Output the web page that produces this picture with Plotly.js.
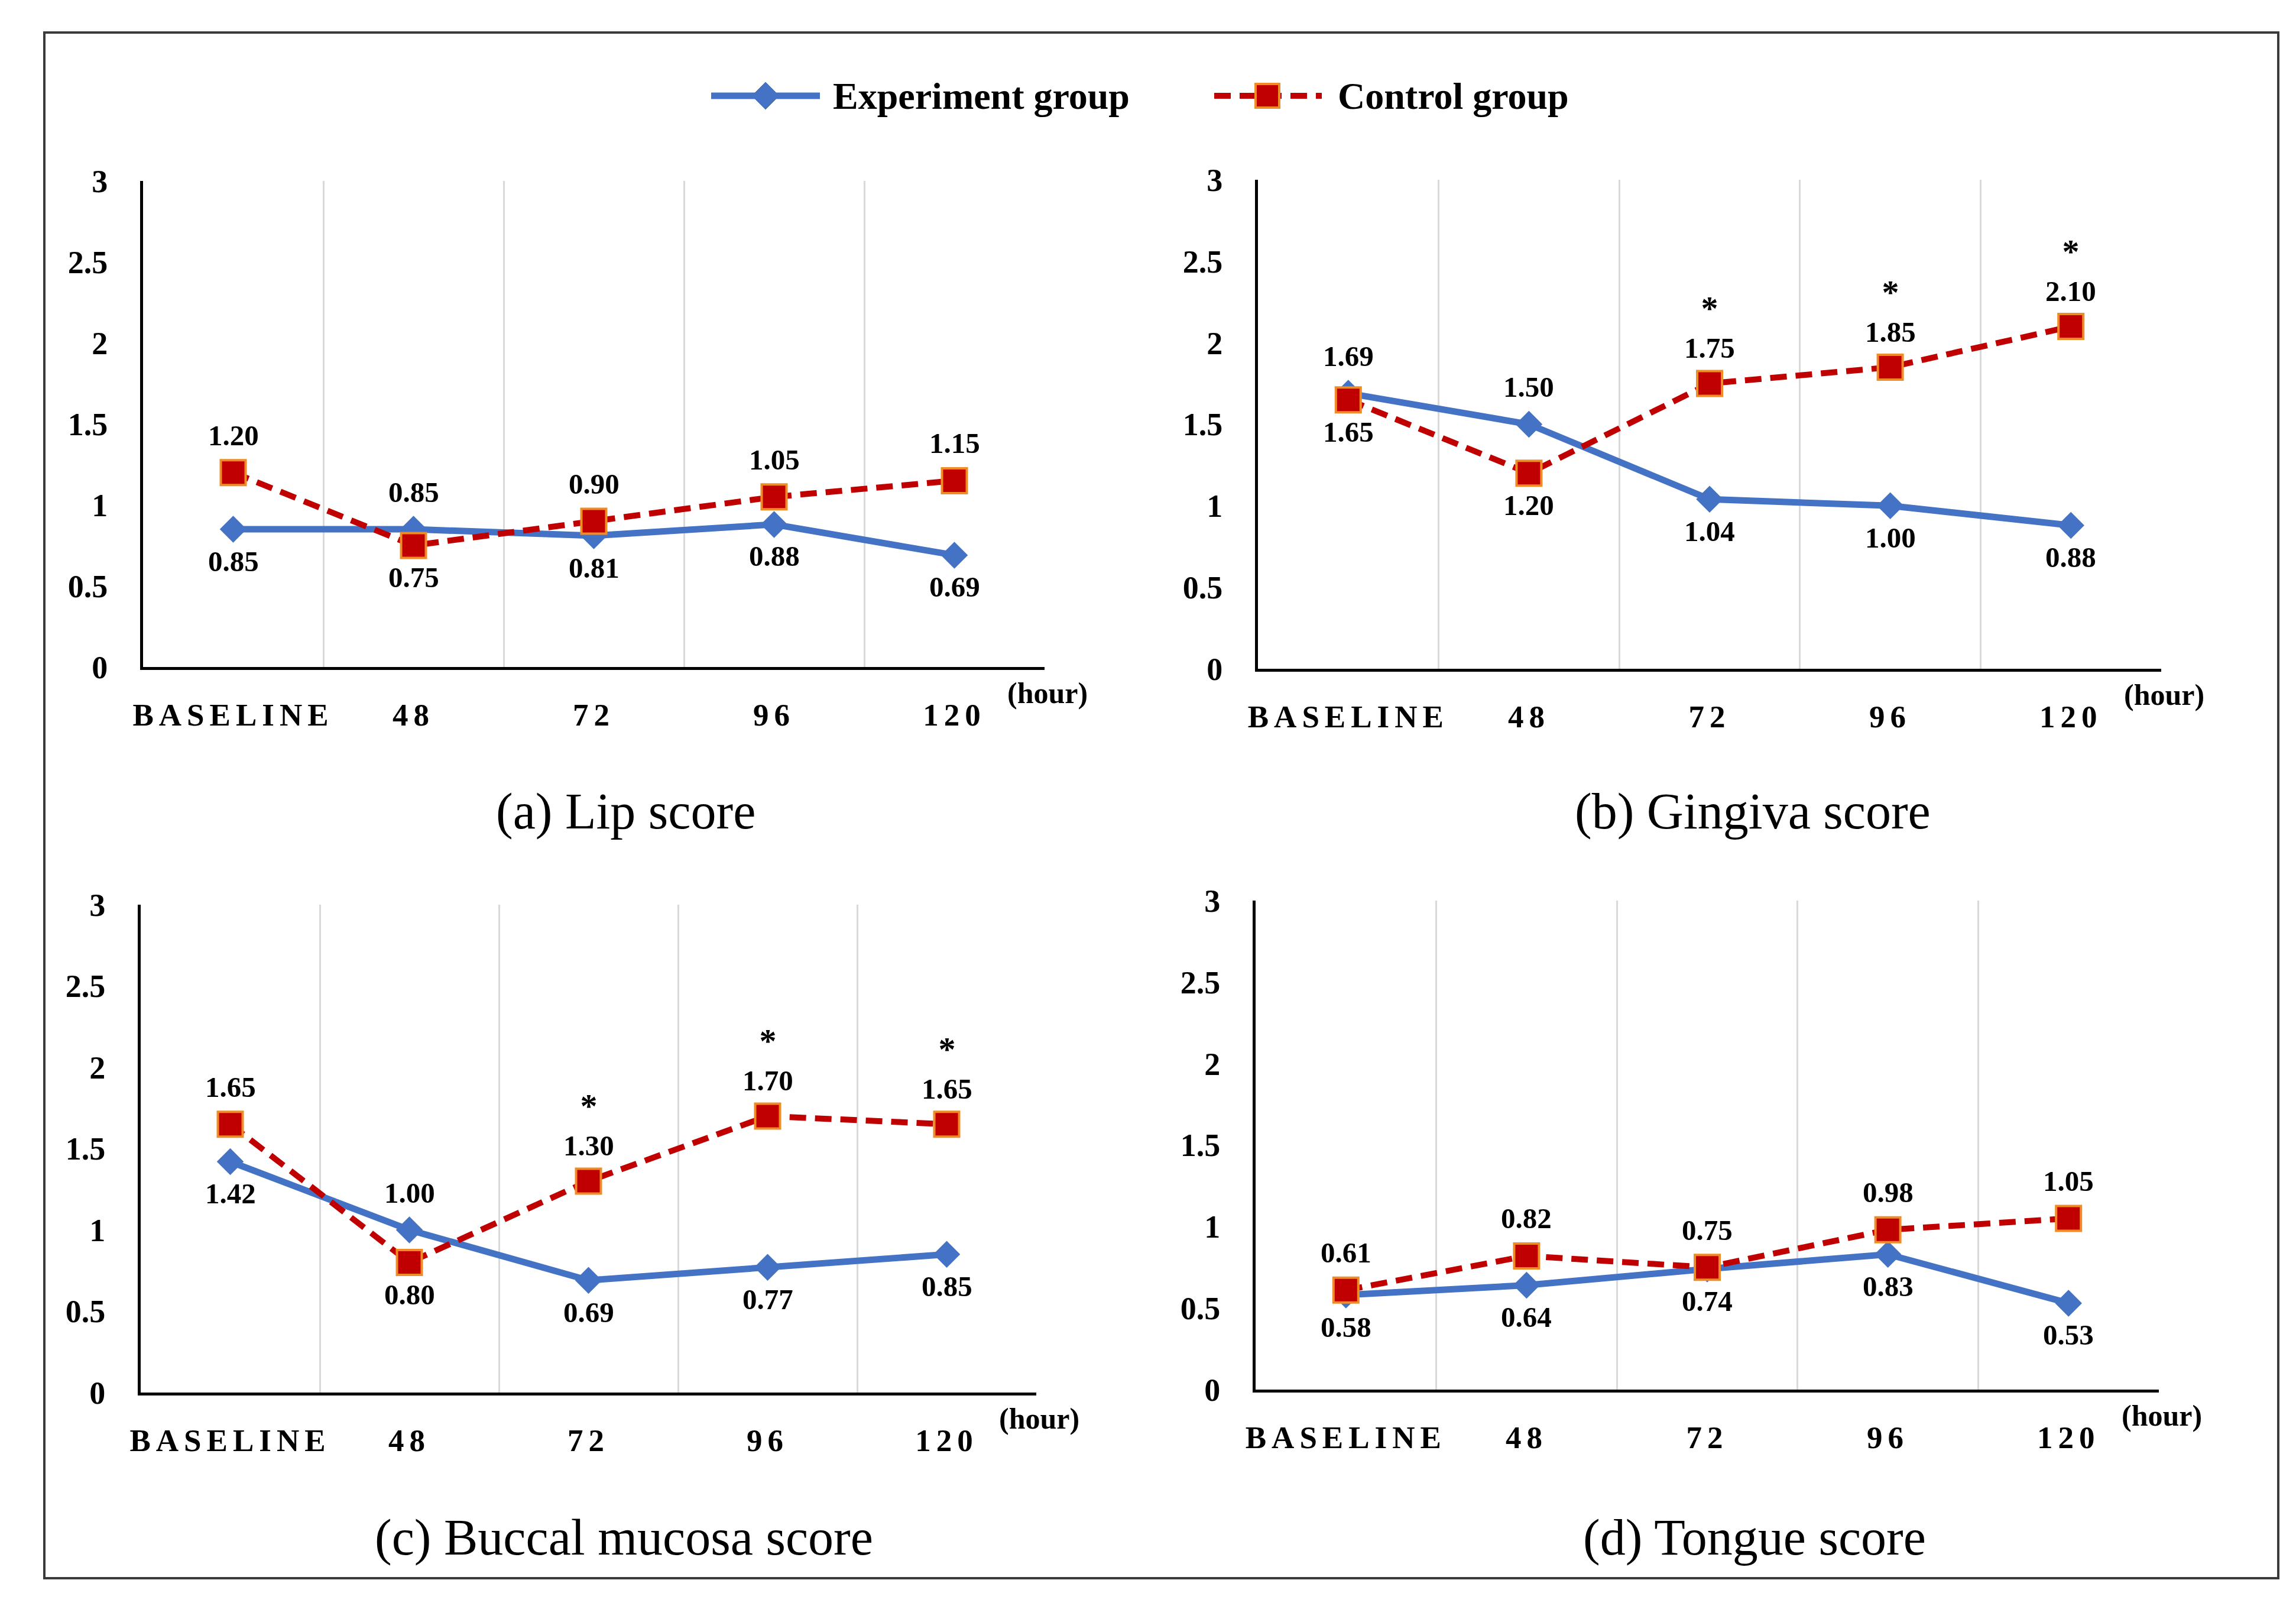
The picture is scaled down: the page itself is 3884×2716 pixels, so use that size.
<!DOCTYPE html>
<html><head><meta charset="utf-8">
<script src="https://cdn.plot.ly/plotly-3.0.1.min.js"></script>
<style>
html,body{margin:0;padding:0;background:#fff;}
#chart{width:3884px;height:2716px;}
.xtick text, .x2tick text, .x3tick text, .x4tick text{letter-spacing:9px;}
</style></head><body><div id="chart"></div>
<script>
// ---------- data ----------
const categories = ['BASELINE', '48', '72', '96', '120'];
const yTickVals = [0, 0.5, 1, 1.5, 2, 2.5, 3];
const yTickText = ['0', '0.5', '1', '1.5', '2', '2.5', '3'];

const lipExp  = [0.85, 0.85, 0.81, 0.88, 0.69];
const lipCtrl = [1.20, 0.75, 0.90, 1.05, 1.15];
const lipSig  = [false, false, false, false, false];

const gingivaExp  = [1.69, 1.50, 1.04, 1.00, 0.88];
const gingivaCtrl = [1.65, 1.20, 1.75, 1.85, 2.10];
const gingivaSig  = [false, false, true, true, true];

const buccalExp  = [1.42, 1.00, 0.69, 0.77, 0.85];
const buccalCtrl = [1.65, 0.80, 1.30, 1.70, 1.65];
const buccalSig  = [false, false, true, true, true];

const tongueExp  = [0.58, 0.64, 0.74, 0.83, 0.53];
const tongueCtrl = [0.61, 0.82, 0.75, 0.98, 1.05];
const tongueSig  = [false, false, false, false, false];

const panelTitles = ['(a) Lip score', '(b) Gingiva score', '(c) Buccal mucosa score', '(d) Tongue score'];
const seriesNames = ['Experiment group', 'Control group'];
const unitLabel = '(hour)';
const sigMark = '*';

// ---------- layout config ----------
const W = 3884, H = 2716;
const FONT = 'Liberation Serif';
const BLUE = '#4472C4', RED = '#C00000', ORANGE = '#F08C28', GRID = '#D9D9D9';

// label placement (t = above, b = below)
const panels = [
  {exp: lipExp, ctrl: lipCtrl, sig: lipSig, box: [242, 1767, 306, 1128],
   expPos: ['b','t','b','b','b'], ctrlPos: ['t','b','t','t','t'], title: [1058, 1372]},
  {exp: gingivaExp, ctrl: gingivaCtrl, sig: gingivaSig, box: [2128, 3656, 304, 1131],
   expPos: ['t','t','b','b','b'], ctrlPos: ['b','b','t','t','t'], title: [2965, 1372]},
  {exp: buccalExp, ctrl: buccalCtrl, sig: buccalSig, box: [238, 1753, 1530, 2355],
   expPos: ['b','t','b','b','b'], ctrlPos: ['t','b','t','t','t'], title: [1055, 2600]},
  {exp: tongueExp, ctrl: tongueCtrl, sig: tongueSig, box: [2124, 3652, 1523, 2350],
   expPos: ['b','b','b','b','b'], ctrlPos: ['t','t','t','t','t'], title: [2968, 2600]}
];

const px = v => v / W;
const py = v => 1 - v / H;

const traces = [];
const annotations = [];
const shapes = [];
const layout = {
  width: W, height: H,
  margin: {l: 0, r: 0, t: 0, b: 0},
  paper_bgcolor: '#fff', plot_bgcolor: '#fff',
  showlegend: false,
  font: {family: FONT, color: '#000'}
};

const ABOVE = 63, BELOW = -54, ABOVE_SIG = 96;

panels.forEach((p, k) => {
  const n = k + 1;
  const xa = 'x' + (n === 1 ? '' : n), ya = 'y' + (n === 1 ? '' : n);
  const xKey = 'xaxis' + (n === 1 ? '' : n), yKey = 'yaxis' + (n === 1 ? '' : n);
  const [l, r, t, b] = p.box;
  layout[xKey] = {
    domain: [px(l), px(r)], anchor: ya, type: 'category',
    categoryorder: 'array', categoryarray: categories,
    range: [-0.5, 4.5], tickson: 'boundaries',
    showgrid: true, gridcolor: GRID, gridwidth: 3,
    showline: true, linecolor: '#000', linewidth: 5,
    ticks: '', zeroline: false, fixedrange: true,
    tickfont: {family: FONT, size: 53, weight: 'bold', color: '#000'},
    ticklabelstandoff: 30
  };
  layout[yKey] = {
    domain: [py(b), py(t)], anchor: xa, range: [0, 3],
    tickmode: 'array', tickvals: yTickVals, ticktext: yTickText,
    showgrid: false, zeroline: false,
    showline: true, linecolor: '#000', linewidth: 5,
    ticks: '', fixedrange: true,
    tickfont: {family: FONT, size: 54, weight: 'bold', color: '#000'},
    ticklabelstandoff: 44
  };
  traces.push({
    type: 'scatter', mode: 'lines+markers', name: seriesNames[0],
    x: categories, y: p.exp, xaxis: xa, yaxis: ya,
    line: {color: BLUE, width: 11},
    marker: {symbol: 'diamond', size: 35, color: BLUE},
    cliponaxis: false, hoverinfo: 'skip'
  });
  traces.push({
    type: 'scatter', mode: 'lines+markers', name: seriesNames[1],
    x: categories, y: p.ctrl, xaxis: xa, yaxis: ya,
    line: {color: RED, width: 10, dash: '28px,15px'},
    marker: {symbol: 'square', size: 42, color: RED, line: {color: ORANGE, width: 4}},
    cliponaxis: false, hoverinfo: 'skip'
  });
  const lblFont = {family: FONT, size: 49, weight: 'bold', color: '#000'};
  categories.forEach((c, i) => {
    annotations.push({
      xref: xa, yref: ya, x: i, y: p.exp[i], text: p.exp[i].toFixed(2),
      showarrow: false, font: lblFont, yshift: p.expPos[i] === 't' ? ABOVE : BELOW
    });
    const sig = p.sig[i];
    annotations.push({
      xref: xa, yref: ya, x: i, y: p.ctrl[i],
      text: (sig ? '<span style="font-size:58px">' + sigMark + '</span><br>' : '') + p.ctrl[i].toFixed(2),
      showarrow: false, font: lblFont,
      yshift: p.ctrlPos[i] === 't' ? (sig ? ABOVE_SIG : ABOVE) : BELOW
    });
  });
  annotations.push({
    xref: xa + ' domain', yref: ya + ' domain', x: 1.003, y: 0, yshift: -44,
    text: unitLabel, showarrow: false, xanchor: 'center', yanchor: 'middle',
    font: {family: FONT, size: 50, weight: 'bold', color: '#000'}
  });
  annotations.push({
    xref: 'paper', yref: 'paper', x: px(p.title[0]), y: py(p.title[1]),
    text: panelTitles[k], showarrow: false, xanchor: 'center', yanchor: 'middle',
    font: {family: FONT, size: 86, color: '#000'}
  });
});

// outer frame
shapes.push({type: 'rect', xref: 'paper', yref: 'paper',
  x0: px(75), x1: px(3854), y0: py(2669), y1: py(55),
  line: {color: '#3a3a3a', width: 4}, fillcolor: 'rgba(0,0,0,0)'});

// legend
const LY = 162;
shapes.push({type: 'line', xref: 'paper', yref: 'paper', x0: px(1203), x1: px(1387), y0: py(LY), y1: py(LY),
  line: {color: BLUE, width: 11}});
const dx = 1295, dh = 23;
shapes.push({type: 'path', xref: 'paper', yref: 'paper',
  path: `M ${px(dx - dh)} ${py(LY)} L ${px(dx)} ${py(LY - dh)} L ${px(dx + dh)} ${py(LY)} L ${px(dx)} ${py(LY + dh)} Z`,
  fillcolor: BLUE, line: {color: BLUE, width: 1}});
shapes.push({type: 'line', xref: 'paper', yref: 'paper', x0: px(2054), x1: px(2236), y0: py(LY), y1: py(LY),
  line: {color: RED, width: 10, dash: '28px,15px'}});
const sx = 2144, sh = 20;
shapes.push({type: 'rect', xref: 'paper', yref: 'paper',
  x0: px(sx - sh), x1: px(sx + sh), y0: py(LY + sh), y1: py(LY - sh),
  fillcolor: RED, line: {color: ORANGE, width: 4}});
const legFont = {family: FONT, size: 64, weight: 'bold', color: '#000'};
annotations.push({xref: 'paper', yref: 'paper', x: px(1407), y: py(LY), xanchor: 'left', yanchor: 'middle',
  text: seriesNames[0], showarrow: false, font: legFont});
annotations.push({xref: 'paper', yref: 'paper', x: px(2261), y: py(LY), xanchor: 'left', yanchor: 'middle',
  text: seriesNames[1], showarrow: false, font: legFont});

layout.annotations = annotations;
layout.shapes = shapes;

Plotly.newPlot('chart', traces, layout, {displayModeBar: false, staticPlot: true});
</script></body></html>
